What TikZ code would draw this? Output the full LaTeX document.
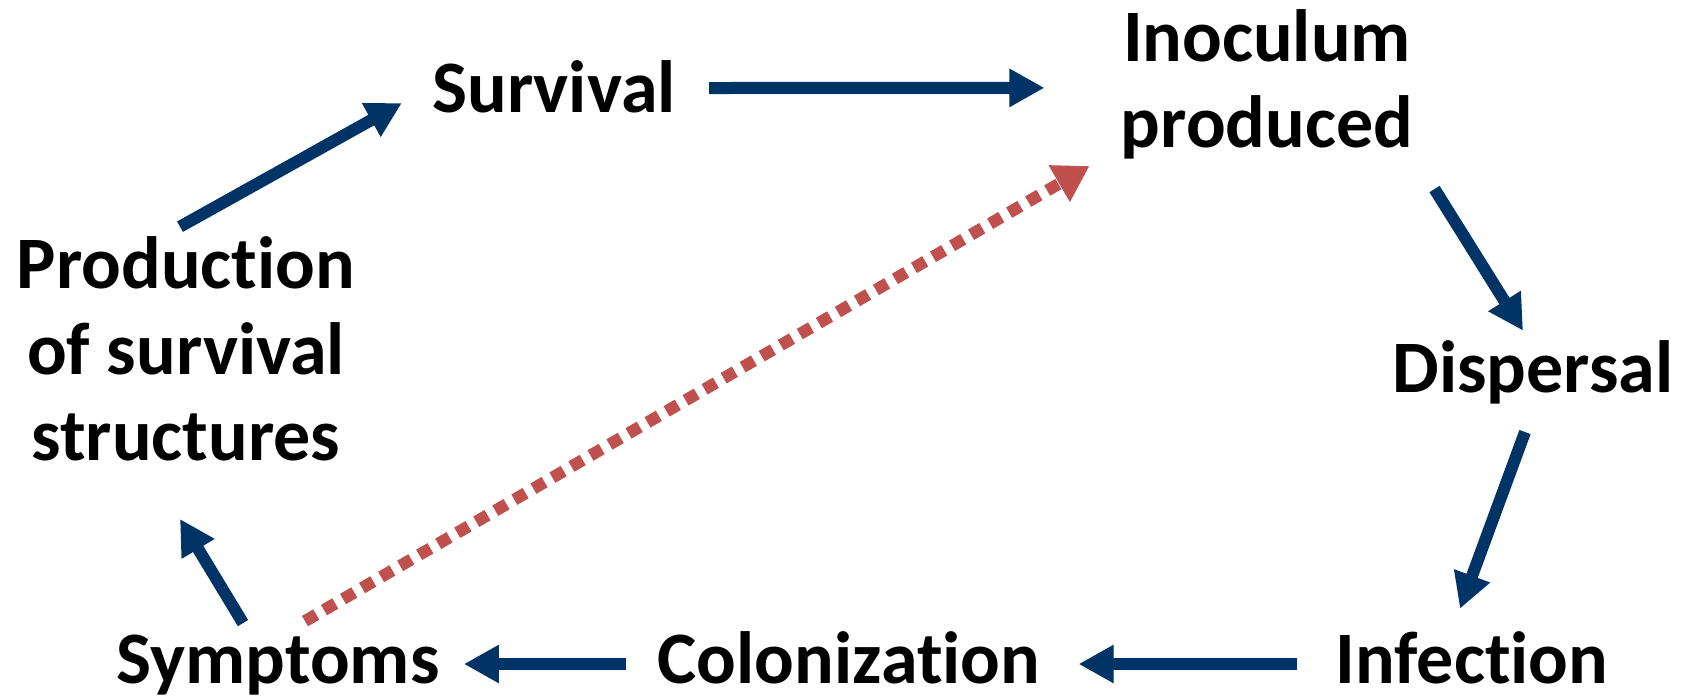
\documentclass[tikz,border=0pt]{standalone}
\usepackage{fontspec}
\setmainfont{Carlito}[Ligatures=NoCommon]
\usetikzlibrary{arrows.meta}
\definecolor{cycleblue}{HTML}{003366}
\definecolor{cyclered}{HTML}{C0504D}

\begin{document}
\begin{tikzpicture}[
        x=0.5pt, y=-0.5pt,
        every node/.style={font=\fontsize{37}{43}\selectfont\bfseries, inner sep=0pt, anchor=base, align=center},
        arrow/.style={-{Triangle[length=17.5pt, width=18pt]}, line width=6pt, cycleblue},
        feedback/.style={-{Triangle[length=17.5pt, width=20pt]}, line width=6pt, cyclered, dash pattern=on 6.5pt off 4.5pt}
    ]
        \useasboundingbox (0,0) rectangle (1688,698);

        % Nodes (anchor at the baseline of the last line)
        \node (surv) at (554,112) {Survival};
        \node (inoc) at (1267,147) {Inoculum\\produced};
        \node (disp) at (1533,392) {Dispersal};
        \node (infe) at (1472,683) {Infection};
        \node (colo) at (849,683) {Colonization};
        \node (symp) at (278,683) {Symptoms};
        \node (prod) at (186,460) {Production\\of survival\\structures};

        % Arrows (cycle)
        \draw[arrow] ([shift={(-6,-9)}]prod.north) -- ([shift={(-30,-9)}]surv.base west);
        \draw[arrow] ([shift={(33,-24)}]surv.base east) -- ([shift={(-76,4)}]inoc.west);
        \draw[arrow] ([shift={(21,30)}]inoc.south east) -- ([shift={(-10,-9)}]disp.north);
        \draw[arrow] ([shift={(-8,28)}]disp.south) -- ([shift={(-12,-22)}]infe.north);
        \draw[arrow] ([shift={(-38,-19)}]infe.base west) -- ([shift={(38,-19)}]colo.base east);
        \draw[arrow] ([shift={(-31,-19)}]colo.base west) -- ([shift={(24,-19)}]symp.base east);
        \draw[arrow] ([shift={(-35,-11)}]symp.north) -- ([shift={(-6,58)}]prod.south);

        % Arrow (shortcut)
        \draw[feedback] ([shift={(27,-13)}]symp.north) -- ([shift={(-31,7)}]inoc.south west);

    \end{tikzpicture}
\end{document}
